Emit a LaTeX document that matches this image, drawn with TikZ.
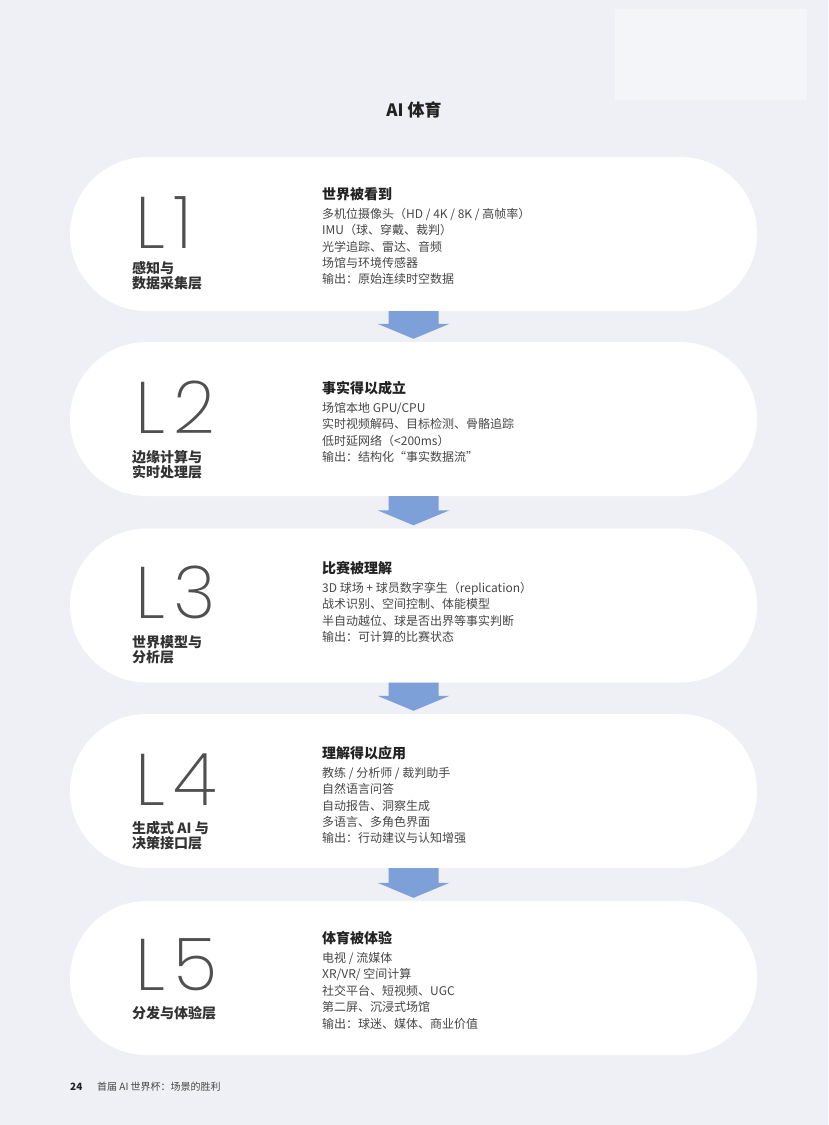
\documentclass[tikz,border=0pt]{standalone}
\usepackage{fontspec}
\usetikzlibrary{calc}
\setmainfont{Noto Sans CJK SC}
\IfFontExistsTF{Poppins ExtraLight}{\newfontfamily\thinfont{Poppins ExtraLight}}{%
  \IfFontExistsTF{Lato Light}{\newfontfamily\thinfont{Lato Light}}{%
    \IfFontExistsTF{Fira Sans Light}{\newfontfamily\thinfont{Fira Sans Light}}{\newfontfamily\thinfont{DejaVu Sans}}}}
\definecolor{bg}{RGB}{239,240,245}
\definecolor{arrowc}{RGB}{125,160,216}
\definecolor{headc}{RGB}{34,34,34}
\definecolor{bodyc}{RGB}{70,70,70}
\definecolor{numc}{RGB}{80,80,80}
\definecolor{lblc}{RGB}{50,50,50}
\newcommand{\layernum}[1]{L\hspace{9pt}#1}
\begin{document}
\begin{tikzpicture}[x=1pt,y=-1pt,
  stadium/.style={fill=white, rectangle, rounded corners=76.9pt, minimum width=687pt, minimum height=154pt, inner sep=0pt},
  numtxt/.style={anchor=base west, inner sep=0pt, text depth=0pt, text=numc, font=\thinfont\fontsize{73}{73}\selectfont},
  lbl/.style={anchor=north west, inner sep=0pt, align=left, text=lblc, font=\bfseries\fontsize{14}{14.5}\selectfont},
  content/.style={anchor=north west, inner sep=0pt, align=left, text=bodyc, font=\fontsize{12}{16.4}\selectfont},
  arrowfill/.style={fill=arrowc}
]
\fill[bg] (0,0) rectangle (828,1125);
\useasboundingbox (0,0) rectangle (828,1125);
\fill[white, opacity=0.35] (615,9) rectangle (807,100);

\node[font=\bfseries\fontsize{17}{17}\selectfont, text=headc] (title) at (414,110) {AI 体育};

\node[stadium] (b1) at (413.5,234) {};
\node[stadium] (b2) at (413.5,419) {};
\node[stadium] (b3) at (413.5,605.5) {};
\node[stadium] (b4) at (413.5,791) {};
\node[stadium] (b5) at (413.5,978) {};

\foreach \a/\b in {b1/b2,b2/b3,b3/b4,b4/b5}{
  \fill[arrowfill] ($(\a.south)+(-25,0)$) -- ($(\a.south)+(25,0)$) -- ($(\b.north)+(25,-18)$) -- ($(\b.north)+(36,-18)$) -- ($(\b.north)+(0,-3)$) -- ($(\b.north)+(-36,-18)$) -- ($(\b.north)+(-25,-18)$) -- cycle;
}

\node[numtxt] (n1) at (135,248) {\layernum{1}};
\node[numtxt] (n2) at (135,433) {\layernum{2}};
\node[numtxt] (n3) at (135,618) {\layernum{3}};
\node[numtxt] (n4) at (135,805) {\layernum{4}};
\node[numtxt] (n5) at (135,990) {\layernum{5}};

\node[lbl] (l1) at (132,261.5) {感知与\\数据采集层};
\node[lbl] (l2) at (132,450.5) {边缘计算与\\实时处理层};
\node[lbl] (l3) at (132,635.5) {世界模型与\\分析层};
\node[lbl] (l4) at (132,821.5) {生成式 AI 与\\决策接口层};
\node[lbl] (l5) at (132,1006.5) {分发与体验层};

\node[content] (c1) at (322,187) {{\color{headc}\bfseries\fontsize{14}{14}\selectfont 世界被看到}\\[2.6pt]
多机位摄像头（HD / 4K / 8K / 高帧率）\\
IMU（球、穿戴、裁判）\\
光学追踪、雷达、音频\\
场馆与环境传感器\\
输出：原始连续时空数据};

\node[content] (c2) at (322,381) {{\color{headc}\bfseries\fontsize{14}{14}\selectfont 事实得以成立}\\[2.6pt]
场馆本地 GPU/CPU\\
实时视频解码、目标检测、骨骼追踪\\
低时延网络（<200ms）\\
输出：结构化“事实数据流”};

\node[content] (c3) at (322,561) {{\color{headc}\bfseries\fontsize{14}{14}\selectfont 比赛被理解}\\[2.6pt]
3D 球场 + 球员数字孪生（replication）\\
战术识别、空间控制、体能模型\\
半自动越位、球是否出界等事实判断\\
输出：可计算的比赛状态};

\node[content] (c4) at (322,746) {{\color{headc}\bfseries\fontsize{14}{14}\selectfont 理解得以应用}\\[2.6pt]
教练 / 分析师 / 裁判助手\\
自然语言问答\\
自动报告、洞察生成\\
多语言、多角色界面\\
输出：行动建议与认知增强};

\node[content] (c5) at (322,931) {{\color{headc}\bfseries\fontsize{14}{14}\selectfont 体育被体验}\\[2.6pt]
电视 / 流媒体\\
XR/VR/ 空间计算\\
社交平台、短视频、UGC\\
第二屏、沉浸式场馆\\
输出：球迷、媒体、商业价值};

\node[anchor=west, inner sep=0pt, text=headc, font=\bfseries\fontsize{10}{10}\selectfont] (pg) at (70,1087) {24};
\node[anchor=west, inner sep=0pt, text=bodyc, font=\fontsize{10}{10}\selectfont] (ft) at (97,1087) {首届 AI 世界杯：场景的胜利};
\end{tikzpicture}
\end{document}
